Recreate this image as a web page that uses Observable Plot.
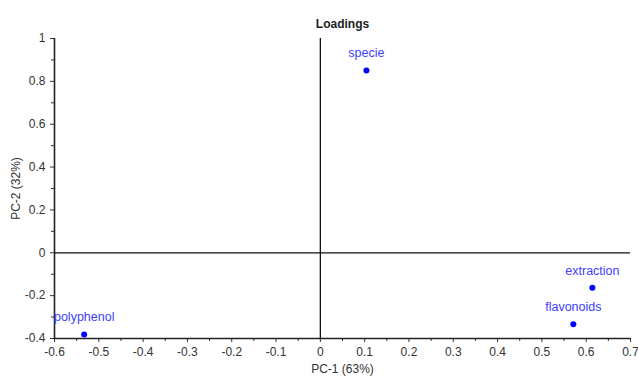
<!DOCTYPE html>
<html>
<head>
<meta charset="utf-8">
<script src="https://cdn.jsdelivr.net/npm/d3@7"></script>
<script src="https://cdn.jsdelivr.net/npm/@observablehq/plot@0.6"></script>
<style>
  html, body { margin: 0; padding: 0; background: #fff; }
  #chart { width: 638px; height: 376px; overflow: hidden; }
</style>
</head>
<body>
<div id="chart"></div>
<script>
const names = ["specie", "extraction", "flavonoids", "polyphenol"];
const pc1 = [0.104, 0.614, 0.571, -0.533];
const pc2 = [0.851, -0.163, -0.333, -0.381];

const xMajor = [-0.6, -0.5, -0.4, -0.3, -0.2, -0.1, 0, 0.1, 0.2, 0.3, 0.4, 0.5, 0.6, 0.7];
const xMinor = [-0.55, -0.45, -0.35, -0.25, -0.15, -0.05, 0.05, 0.15, 0.25, 0.35, 0.45, 0.55, 0.65];
const yMajor = [-0.4, -0.2, 0, 0.2, 0.4, 0.6, 0.8, 1];
const yMinor = [-0.3, -0.1, 0.1, 0.3, 0.5, 0.7, 0.9];

const title = "Loadings";
const xLabel = "PC-1 (63%)";
const yLabel = "PC-2 (32%)";

const points = names.map((n, i) => ({name: n, x: pc1[i], y: pc2[i]}));
const fmt = d => String(+d.toFixed(2));

const plot = Plot.plot({
  width: 638,
  height: 376,
  marginLeft: 54,
  marginRight: 8,
  marginTop: 38,
  marginBottom: 38,
  style: {fontFamily: "'Liberation Sans', Arial, sans-serif", fontSize: "12px", color: "#333", background: "#fff"},
  x: {domain: [-0.6, 0.7]},
  y: {domain: [-0.4, 1]},
  marks: [
    Plot.axisX(xMinor, {tickSize: 3, text: null, label: null, stroke: "#333"}),
    Plot.axisX(xMajor, {tickSize: 4, tickPadding: 5, tickFormat: fmt, label: xLabel, labelAnchor: "center", labelArrow: "none", labelOffset: 34, fill: "#333", stroke: "#333"}),
    Plot.axisY(yMinor, {tickSize: 3, text: null, label: null, stroke: "#333"}),
    Plot.axisY(yMajor, {tickSize: 4, tickPadding: 5, tickFormat: fmt, label: yLabel, labelAnchor: "center", labelArrow: "none", labelOffset: 43, fill: "#333", stroke: "#333"}),
    Plot.ruleX([0], {stroke: "#111", strokeWidth: 1.3}),
    Plot.ruleY([0], {stroke: "#111", strokeWidth: 1.3}),
    Plot.ruleX([-0.6], {stroke: "#222", strokeWidth: 1.6}),
    Plot.ruleY([-0.4], {stroke: "#222", strokeWidth: 1.6}),
    Plot.dot(points, {x: "x", y: "y", r: 3, fill: "#0000ff", stroke: null}),
    Plot.text(points, {x: "x", y: "y", text: "name", dy: -17, fill: "#4040ff", fontSize: 12.5}),
    Plot.text([title], {frameAnchor: "top", dy: -19, text: d => d, fontWeight: "bold", fontSize: 12, fill: "#222"})
  ]
});
document.getElementById("chart").appendChild(plot);
</script>
</body>
</html>
